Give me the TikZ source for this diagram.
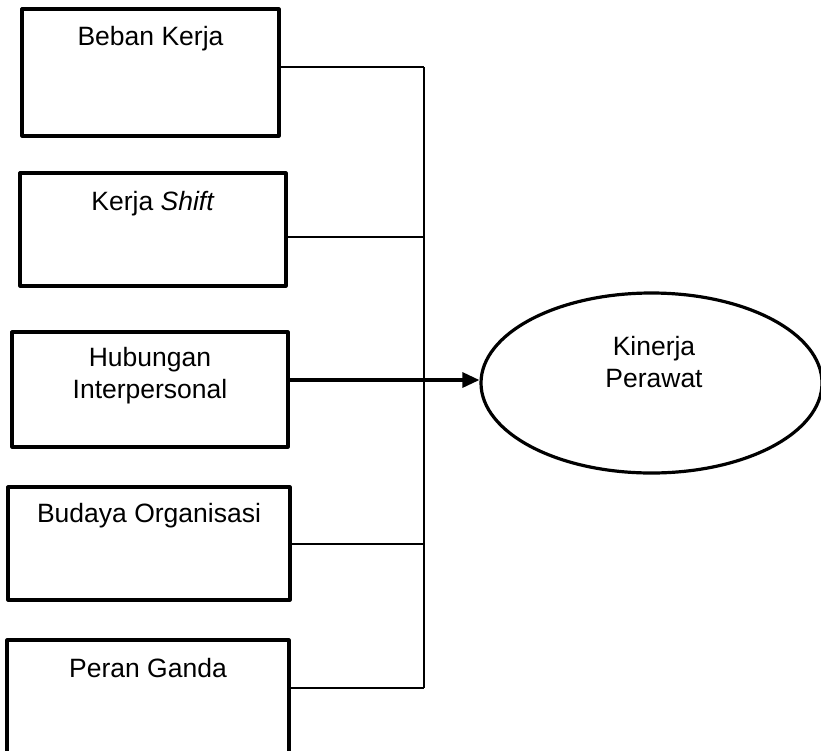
\documentclass[tikz,border=0pt]{standalone}
\usepackage{fontspec}
\setmainfont{Liberation Sans}
\usetikzlibrary{arrows.meta,shapes.geometric}

\begin{document}
\begin{tikzpicture}[x=1pt, y=-1pt, line join=round, font=\fontsize{26.5}{32}\selectfont,
		kotak/.style={draw, line width=3.2pt, inner sep=0pt},
		garis/.style={line width=1.5pt},
		panah/.style={line width=3.2pt, -{Triangle[length=17pt, width=15pt]}}]
	\useasboundingbox (0,0) rectangle (821,750);
	
	\foreach \n/\x/\y/\w/\h/\d/\t in {
		1/150.5/72.5/257/127/31/{Beban Kerja},
		2/153/229.5/266/113/32/{Kerja \textit{Shift}},
		3/150/389.5/276/115/45/{Hubungan\\Interpersonal},
		4/149/543.5/282/113/30/{Budaya Organisasi},
		5/148/700/282/120/30/{Peran Ganda}}
	{
		\node[kotak, minimum width=\w pt, minimum height=\h pt] (b\n) at (\x,\y) {};
		\node[align=center] (t\n) at ([yshift=-\d pt]b\n.north) {\t};
	}
	
	\node[kotak, ellipse, minimum width=341pt, minimum height=180pt] (goal) at (651.5,383) {};
	\node[align=center] (tgoal) at ([xshift=2.5pt, yshift=21pt]goal.center) {Kinerja\\Perawat};
	
	\path
	(424,67) coordinate (j1)
	(424,237) coordinate (j2)
	(424,380) coordinate (j3)
	(424,544) coordinate (j4)
	(424,688) coordinate (j5);
	
	\draw[garis] (j1)--(j5);
	\foreach \n in {1,2,4,5}
	\draw[garis] (b\n.east |- j\n)--(j\n);
	\draw[panah] (b3.east |- j3)--(goal.west |- j3);
\end{tikzpicture}
\end{document}
